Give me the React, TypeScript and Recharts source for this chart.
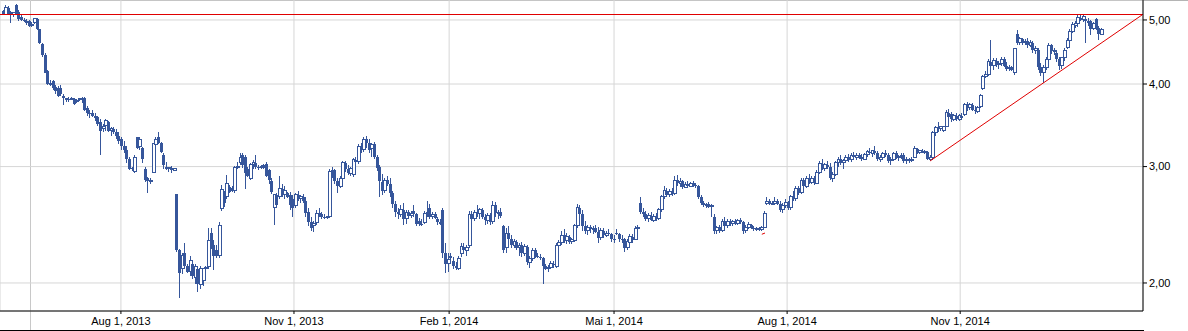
import { ComposedChart, Bar, XAxis, YAxis, CartesianGrid, ReferenceLine } from 'recharts';

type Ohlc = [number, number, number, number];

// daily candles: open, high, low, close (EUR)
const candlesJunJul2013: Ohlc[] = [
  [5.16, 5.18, 5.08, 5.1], [5.1, 5.26, 5.08, 5.22], [5.22, 5.24, 5.11, 5.14], [5.14, 5.16, 4.95, 5.1],
  [5.1, 5.14, 5.05, 5.13], [5.26, 5.28, 5.1, 5.14], [5.14, 5.18, 4.98, 5.02], [5.05, 5.1, 4.98, 5.0],
  [5.0, 5.04, 4.96, 4.98], [4.98, 5.01, 4.92, 4.95], [4.98, 5.0, 4.88, 4.9], [4.9, 4.96, 4.88, 4.93],
  [4.95, 5.04, 4.93, 5.02], [5.02, 5.04, 4.82, 4.84], [4.84, 4.85, 4.6, 4.62], [4.6, 4.62, 4.4, 4.43],
  [4.43, 4.45, 4.15, 4.16], [4.18, 4.2, 3.98, 4.0], [4.02, 4.05, 3.97, 3.99], [4.04, 4.06, 3.92, 3.94],
  [3.96, 3.99, 3.86, 3.9], [3.95, 3.97, 3.82, 3.84], [3.95, 3.98, 3.83, 3.86], [3.84, 3.86, 3.72, 3.81],
  [3.79, 3.81, 3.76, 3.8], [3.8, 3.82, 3.76, 3.78], [3.8, 3.82, 3.78, 3.8], [3.8, 3.81, 3.72, 3.73],
  [3.76, 3.8, 3.74, 3.78], [3.79, 3.81, 3.77, 3.8], [3.8, 3.82, 3.75, 3.78], [3.81, 3.82, 3.64, 3.66],
  [3.68, 3.7, 3.58, 3.62], [3.62, 3.66, 3.55, 3.6], [3.62, 3.65, 3.56, 3.58], [3.58, 3.62, 3.52, 3.55],
  [3.56, 3.58, 3.45, 3.48], [3.5, 3.54, 3.12, 3.4], [3.42, 3.48, 3.38, 3.45], [3.46, 3.54, 3.4, 3.52],
  [3.5, 3.52, 3.38, 3.4], [3.4, 3.44, 3.34, 3.42], [3.42, 3.44, 3.36, 3.38], [3.38, 3.42, 3.3, 3.34],
  [3.34, 3.38, 3.24, 3.28],
];

const candlesAugOct2013: Ohlc[] = [
  [3.3, 3.33, 3.18, 3.22], [3.22, 3.28, 3.14, 3.18], [3.18, 3.22, 3.04, 3.08], [3.08, 3.1, 2.96, 2.98],
  [2.99, 3.0, 2.95, 2.97], [2.95, 3.12, 2.93, 3.1], [3.32, 3.33, 3.19, 3.2], [3.22, 3.33, 3.18, 3.3],
  [3.2, 3.21, 3.04, 3.08], [2.98, 3.0, 2.84, 2.86], [2.88, 2.89, 2.74, 2.85], [2.85, 2.88, 2.82, 2.86],
  [2.94, 3.26, 2.93, 3.25], [3.24, 3.32, 3.22, 3.3], [3.33, 3.38, 3.24, 3.26], [3.26, 3.27, 3.14, 3.16],
  [3.12, 3.14, 2.97, 3.02], [3.0, 3.05, 2.96, 2.98], [2.98, 3.0, 2.94, 2.99], [2.99, 3.01, 2.93, 2.96],
  [2.96, 2.99, 2.95, 2.98], [2.73, 2.73, 2.23, 2.24], [2.24, 2.25, 1.9, 2.07], [2.1, 2.22, 2.06, 2.2],
  [2.22, 2.3, 2.11, 2.12], [2.12, 2.14, 2.07, 2.08], [2.08, 2.2, 2.05, 2.16], [2.14, 2.16, 2.03, 2.05],
  [2.04, 2.14, 1.99, 2.12], [2.1, 2.12, 1.94, 1.99], [1.99, 2.12, 1.96, 2.1], [2.02, 2.11, 1.98, 2.1],
  [2.1, 2.12, 2.08, 2.11], [2.12, 2.42, 2.1, 2.32], [2.38, 2.42, 2.25, 2.28], [2.28, 2.32, 2.09, 2.2],
  [2.24, 2.28, 2.18, 2.2], [2.2, 2.47, 2.18, 2.44], [2.59, 2.81, 2.57, 2.77], [2.74, 2.76, 2.61, 2.64],
  [2.7, 2.91, 2.68, 2.83], [2.79, 2.81, 2.74, 2.75], [2.78, 2.8, 2.75, 2.76], [2.76, 3.01, 2.74, 2.99],
  [2.99, 3.05, 2.97, 3.0], [3.04, 3.14, 3.02, 3.1], [3.12, 3.15, 2.99, 3.02], [3.1, 3.12, 2.77, 2.93],
  [2.98, 3.0, 2.89, 2.9], [2.88, 3.04, 2.86, 3.02], [3.02, 3.07, 2.98, 3.04], [3.04, 3.12, 2.97, 3.0],
  [3.0, 3.02, 2.96, 2.99], [2.99, 3.02, 2.98, 3.0], [3.02, 3.03, 2.98, 2.99], [3.03, 3.05, 2.89, 2.9],
  [2.96, 2.98, 2.82, 2.86], [2.85, 2.88, 2.73, 2.75], [2.6, 2.72, 2.45, 2.72], [2.72, 2.74, 2.6, 2.62],
  [2.7, 2.9, 2.68, 2.78], [2.77, 2.82, 2.7, 2.72], [2.72, 2.8, 2.68, 2.76], [2.74, 2.75, 2.69, 2.7],
  [2.72, 2.75, 2.58, 2.62], [2.68, 2.72, 2.52, 2.6],
];

const candlesNovJan2014: Ohlc[] = [
  [2.62, 2.74, 2.6, 2.72], [2.72, 2.76, 2.66, 2.68], [2.68, 2.72, 2.64, 2.7], [2.7, 2.73, 2.64, 2.66],
  [2.66, 2.7, 2.52, 2.55], [2.56, 2.6, 2.44, 2.47], [2.47, 2.52, 2.4, 2.42], [2.44, 2.48, 2.39, 2.46],
  [2.47, 2.58, 2.45, 2.55], [2.55, 2.6, 2.52, 2.54], [2.54, 2.56, 2.5, 2.52], [2.52, 2.54, 2.5, 2.51],
  [2.51, 2.53, 2.5, 2.52], [2.52, 2.97, 2.51, 2.95], [2.95, 3.0, 2.88, 2.96], [2.96, 2.98, 2.82, 2.85],
  [2.85, 2.88, 2.74, 2.8], [2.8, 2.9, 2.78, 2.88], [2.88, 3.06, 2.86, 3.04], [3.04, 3.06, 2.94, 2.97],
  [2.97, 3.02, 2.91, 2.93], [2.93, 3.0, 2.9, 2.98], [2.92, 3.09, 2.89, 3.07], [3.07, 3.1, 3.02, 3.05],
  [3.05, 3.24, 3.03, 3.22], [3.22, 3.26, 3.14, 3.18], [3.18, 3.33, 3.16, 3.3], [3.3, 3.34, 3.2, 3.26],
  [3.26, 3.3, 3.14, 3.18], [3.2, 3.26, 3.1, 3.24], [3.24, 3.27, 3.08, 3.1], [3.1, 3.12, 2.95, 2.99],
  [3.0, 3.02, 2.7, 2.85], [2.84, 2.92, 2.72, 2.76], [2.76, 2.88, 2.74, 2.86], [2.86, 2.9, 2.8, 2.82],
  [2.82, 2.88, 2.7, 2.74], [2.74, 2.76, 2.6, 2.63], [2.63, 2.66, 2.52, 2.56], [2.56, 2.6, 2.5, 2.54],
  [2.54, 2.62, 2.52, 2.58], [2.58, 2.64, 2.45, 2.5], [2.5, 2.58, 2.46, 2.56], [2.56, 2.58, 2.5, 2.53],
  [2.53, 2.57, 2.51, 2.55], [2.57, 2.62, 2.52, 2.54], [2.54, 2.55, 2.44, 2.46], [2.48, 2.51, 2.44, 2.46],
  [2.46, 2.5, 2.44, 2.45], [2.47, 2.57, 2.46, 2.55], [2.55, 2.66, 2.52, 2.56], [2.6, 2.63, 2.5, 2.52],
  [2.52, 2.56, 2.5, 2.54], [2.54, 2.56, 2.5, 2.51], [2.5, 2.52, 2.45, 2.47], [2.47, 2.5, 2.45, 2.46],
  [2.58, 2.6, 2.18, 2.22], [2.22, 2.3, 2.07, 2.14], [2.14, 2.22, 2.08, 2.17],
];

const candlesFebApr2014: Ohlc[] = [
  [2.2, 2.22, 2.15, 2.18], [2.16, 2.19, 2.1, 2.12], [2.12, 2.15, 2.09, 2.11], [2.1, 2.2, 2.09, 2.18],
  [2.22, 2.3, 2.19, 2.27], [2.27, 2.3, 2.22, 2.24], [2.24, 2.28, 2.2, 2.26], [2.28, 2.57, 2.26, 2.54],
  [2.54, 2.57, 2.47, 2.5], [2.5, 2.58, 2.48, 2.56], [2.56, 2.62, 2.52, 2.55], [2.55, 2.6, 2.5, 2.58],
  [2.58, 2.6, 2.5, 2.52], [2.52, 2.54, 2.45, 2.49], [2.49, 2.55, 2.46, 2.53], [2.53, 2.55, 2.45, 2.47],
  [2.48, 2.66, 2.46, 2.62], [2.62, 2.65, 2.52, 2.55], [2.55, 2.58, 2.5, 2.56], [2.56, 2.6, 2.51, 2.53],
  [2.44, 2.45, 2.22, 2.24], [2.26, 2.42, 2.22, 2.38], [2.38, 2.44, 2.3, 2.33], [2.33, 2.36, 2.26, 2.28],
  [2.28, 2.33, 2.26, 2.31], [2.31, 2.32, 2.24, 2.26], [2.26, 2.3, 2.2, 2.28], [2.28, 2.31, 2.19, 2.22],
  [2.22, 2.29, 2.2, 2.27], [2.27, 2.28, 2.13, 2.15], [2.15, 2.2, 2.11, 2.18], [2.18, 2.26, 2.16, 2.24],
  [2.24, 2.26, 2.18, 2.2], [2.2, 2.22, 2.18, 2.19], [2.19, 2.21, 2.17, 2.18], [2.18, 2.19, 1.99, 2.12],
  [2.12, 2.14, 2.09, 2.1], [2.1, 2.13, 2.08, 2.11], [2.11, 2.16, 2.1, 2.14], [2.14, 2.16, 2.11, 2.13],
  [2.12, 2.3, 2.11, 2.28], [2.28, 2.32, 2.25, 2.3], [2.3, 2.4, 2.28, 2.36], [2.36, 2.41, 2.3, 2.32],
  [2.32, 2.38, 2.29, 2.35], [2.35, 2.36, 2.29, 2.31], [2.31, 2.34, 2.29, 2.33], [2.32, 2.46, 2.31, 2.44],
  [2.44, 2.63, 2.42, 2.6], [2.6, 2.62, 2.52, 2.54], [2.54, 2.58, 2.4, 2.44], [2.44, 2.48, 2.37, 2.4],
  [2.4, 2.45, 2.36, 2.43], [2.43, 2.45, 2.38, 2.41], [2.41, 2.44, 2.37, 2.42], [2.42, 2.45, 2.38, 2.39],
  [2.39, 2.43, 2.3, 2.34], [2.34, 2.42, 2.32, 2.4], [2.4, 2.42, 2.34, 2.36], [2.36, 2.4, 2.35, 2.38],
  [2.38, 2.41, 2.36, 2.37], [2.37, 2.38, 2.31, 2.33], [2.33, 2.36, 2.3, 2.32],
];

const candlesMayJul2014: Ohlc[] = [
  [2.38, 2.41, 2.36, 2.37], [2.37, 2.38, 2.31, 2.33], [2.33, 2.36, 2.3, 2.32], [2.33, 2.34, 2.23, 2.26],
  [2.26, 2.33, 2.24, 2.31], [2.3, 2.37, 2.28, 2.35], [2.35, 2.37, 2.3, 2.32], [2.33, 2.44, 2.32, 2.42],
  [2.42, 2.45, 2.38, 2.43], [2.64, 2.7, 2.54, 2.56], [2.56, 2.6, 2.52, 2.54], [2.54, 2.57, 2.48, 2.5],
  [2.5, 2.55, 2.47, 2.53], [2.53, 2.56, 2.48, 2.49], [2.49, 2.54, 2.47, 2.52], [2.52, 2.55, 2.48, 2.5],
  [2.5, 2.6, 2.49, 2.58], [2.58, 2.72, 2.56, 2.7], [2.7, 2.8, 2.68, 2.76], [2.76, 2.78, 2.7, 2.72],
  [2.72, 2.77, 2.7, 2.75], [2.75, 2.78, 2.71, 2.73], [2.73, 2.9, 2.72, 2.86], [2.86, 2.91, 2.8, 2.83],
  [2.83, 2.88, 2.79, 2.85], [2.85, 2.86, 2.77, 2.79], [2.79, 2.84, 2.78, 2.82], [2.82, 2.85, 2.78, 2.8],
  [2.8, 2.84, 2.79, 2.83], [2.83, 2.85, 2.79, 2.81], [2.81, 2.83, 2.78, 2.8], [2.8, 2.81, 2.68, 2.7],
  [2.7, 2.72, 2.62, 2.64], [2.64, 2.66, 2.61, 2.62], [2.62, 2.64, 2.6, 2.63], [2.63, 2.65, 2.6, 2.61],
  [2.61, 2.63, 2.52, 2.62], [2.52, 2.54, 2.37, 2.4], [2.4, 2.44, 2.37, 2.43], [2.43, 2.45, 2.38, 2.4],
  [2.4, 2.5, 2.39, 2.48], [2.48, 2.52, 2.42, 2.44], [2.44, 2.5, 2.42, 2.48], [2.48, 2.5, 2.44, 2.46],
  [2.46, 2.49, 2.44, 2.48], [2.48, 2.5, 2.45, 2.46], [2.46, 2.5, 2.45, 2.49], [2.49, 2.51, 2.46, 2.47],
  [2.47, 2.48, 2.37, 2.4], [2.4, 2.45, 2.38, 2.43], [2.43, 2.47, 2.41, 2.45], [2.45, 2.46, 2.41, 2.42],
  [2.42, 2.44, 2.4, 2.41], [2.41, 2.43, 2.4, 2.42], [2.42, 2.43, 2.4, 2.41], [2.41, 2.44, 2.4, 2.43],
  [2.43, 2.57, 2.42, 2.55], [2.64, 2.7, 2.62, 2.66], [2.66, 2.68, 2.62, 2.63], [2.63, 2.66, 2.62, 2.64],
  [2.64, 2.7, 2.62, 2.66], [2.66, 2.68, 2.62, 2.63], [2.63, 2.66, 2.56, 2.58], [2.58, 2.64, 2.55, 2.62],
  [2.62, 2.68, 2.6, 2.65],
];

const candlesAugOct2014: Ohlc[] = [
  [2.65, 2.66, 2.58, 2.6], [2.6, 2.72, 2.58, 2.7], [2.7, 2.76, 2.66, 2.68], [2.68, 2.8, 2.66, 2.78],
  [2.78, 2.8, 2.72, 2.74], [2.74, 2.88, 2.73, 2.86], [2.86, 2.88, 2.78, 2.8], [2.8, 2.9, 2.78, 2.88],
  [2.88, 2.92, 2.82, 2.84], [2.84, 2.9, 2.82, 2.88], [2.88, 2.9, 2.81, 2.83], [2.83, 2.96, 2.82, 2.94],
  [2.94, 3.06, 2.92, 3.03], [3.03, 3.08, 2.96, 2.98], [2.98, 3.04, 2.95, 3.02], [3.02, 3.06, 2.97, 3.0],
  [3.0, 3.04, 2.86, 2.88], [2.88, 2.94, 2.84, 2.92], [2.92, 3.06, 2.9, 3.04], [3.04, 3.1, 3.0, 3.08],
  [3.08, 3.12, 3.02, 3.04], [3.04, 3.08, 2.98, 3.06], [3.06, 3.12, 3.04, 3.1], [3.1, 3.13, 3.05, 3.07],
  [3.07, 3.14, 3.05, 3.12], [3.12, 3.16, 3.08, 3.1], [3.1, 3.14, 3.07, 3.12], [3.12, 3.15, 3.08, 3.1],
  [3.1, 3.13, 3.06, 3.08], [3.08, 3.14, 3.07, 3.13], [3.13, 3.18, 3.1, 3.16], [3.16, 3.2, 3.12, 3.14],
  [3.14, 3.18, 3.1, 3.17], [3.17, 3.22, 3.12, 3.15], [3.15, 3.17, 3.06, 3.08], [3.08, 3.12, 3.05, 3.1],
  [3.1, 3.16, 3.08, 3.14], [3.14, 3.18, 3.1, 3.12], [3.12, 3.14, 3.04, 3.06], [3.06, 3.1, 3.02, 3.08],
  [3.08, 3.16, 3.06, 3.14], [3.14, 3.17, 3.08, 3.1], [3.1, 3.12, 3.06, 3.11], [3.11, 3.14, 3.08, 3.12],
  [3.12, 3.14, 3.04, 3.06], [3.06, 3.1, 3.03, 3.08], [3.08, 3.09, 3.04, 3.06], [3.06, 3.1, 3.05, 3.08],
  [3.1, 3.22, 3.09, 3.19], [3.19, 3.2, 3.13, 3.15], [3.15, 3.18, 3.13, 3.17], [3.17, 3.19, 3.14, 3.15],
  [3.15, 3.18, 3.13, 3.16], [3.16, 3.17, 3.07, 3.08], [3.08, 3.12, 3.06, 3.1], [3.1, 3.4, 3.09, 3.38],
  [3.38, 3.46, 3.34, 3.44], [3.44, 3.5, 3.38, 3.42], [3.42, 3.46, 3.4, 3.45], [3.4, 3.46, 3.39, 3.45],
  [3.45, 3.66, 3.44, 3.62], [3.62, 3.67, 3.52, 3.56], [3.6, 3.63, 3.51, 3.54], [3.54, 3.6, 3.52, 3.58],
  [3.58, 3.62, 3.52, 3.54], [3.54, 3.6, 3.52, 3.58],
];

const candlesNovJan2015: Ohlc[] = [
  [3.58, 3.62, 3.53, 3.55], [3.6, 3.75, 3.58, 3.72], [3.72, 3.76, 3.64, 3.68], [3.68, 3.74, 3.65, 3.72],
  [3.72, 3.75, 3.64, 3.66], [3.66, 3.7, 3.6, 3.64], [3.64, 3.7, 3.62, 3.68], [3.7, 3.86, 3.68, 3.84],
  [3.94, 4.13, 3.92, 4.1], [4.1, 4.18, 4.08, 4.14], [4.14, 4.36, 4.12, 4.32], [4.32, 4.66, 4.2, 4.26],
  [4.26, 4.38, 4.2, 4.34], [4.34, 4.38, 4.24, 4.28], [4.28, 4.34, 4.22, 4.3], [4.3, 4.4, 4.26, 4.36],
  [4.36, 4.4, 4.24, 4.26], [4.26, 4.32, 4.18, 4.22], [4.22, 4.28, 4.18, 4.24], [4.24, 4.26, 4.18, 4.2],
  [4.16, 4.54, 4.13, 4.52], [4.76, 4.82, 4.58, 4.62], [4.62, 4.72, 4.58, 4.68], [4.68, 4.7, 4.58, 4.62],
  [4.62, 4.68, 4.58, 4.64], [4.64, 4.7, 4.54, 4.58], [4.58, 4.66, 4.55, 4.62], [4.62, 4.64, 4.46, 4.5],
  [4.5, 4.56, 4.44, 4.52], [4.5, 4.54, 4.2, 4.24], [4.24, 4.3, 4.12, 4.16], [4.16, 4.28, 4.02, 4.24],
  [4.24, 4.4, 4.2, 4.36], [4.36, 4.62, 4.34, 4.58], [4.58, 4.6, 4.44, 4.48], [4.48, 4.54, 4.42, 4.5],
  [4.46, 4.48, 4.32, 4.36], [4.36, 4.4, 4.2, 4.26], [4.26, 4.4, 4.22, 4.38], [4.38, 4.54, 4.34, 4.5],
  [4.54, 4.7, 4.52, 4.66], [4.66, 4.84, 4.64, 4.8], [4.8, 4.96, 4.78, 4.92], [4.9, 4.98, 4.86, 4.94],
  [4.94, 5.08, 4.88, 5.04], [5.04, 5.1, 4.98, 5.0], [5.0, 5.08, 4.96, 5.06], [5.02, 5.06, 4.62, 4.98],
  [4.98, 5.04, 4.9, 4.94], [4.98, 5.0, 4.75, 4.84], [4.86, 4.96, 4.82, 4.94], [5.02, 5.04, 4.82, 4.86],
  [4.86, 4.9, 4.66, 4.76], [4.76, 4.86, 4.74, 4.84],
];

const dateTicks = [44.9, 110.6, 169.5, 232.1, 297.8, 363.5];
const dateLabels = ['Aug 1, 2013', 'Nov 1, 2013', 'Feb 1, 2014', 'Mai 1, 2014', 'Aug 1, 2014', 'Nov 1, 2014'];
const priceTicks = [2, 3, 4, 5];

// drawn lines: resistance at the top, rising support line, a stray stub
const resistance = 5.09;
const supportLine = [
  { x: 352.1, y: 3.06 },
  { x: 432.6, y: 5.09 },
];
const stubLine = [
  { x: 288.2, y: 2.37 },
  { x: 289.4, y: 2.38 },
];

const BLUE = '#36569b';
const RED = '#e00000';
const FONT = '"Liberation Sans", Arial, sans-serif';

const data = [
  ...candlesJunJul2013,
  ...candlesAugOct2013,
  ...candlesNovJan2014,
  ...candlesFebApr2014,
  ...candlesMayJul2014,
  ...candlesAugOct2014,
  ...candlesNovJan2015,
].map(([o, h, l, c], i) => ({ i, o, h, l, c }));

function Candle(props: any) {
  const { x, y, width, height, payload } = props;
  if (!payload || x == null) return null;
  const { o, h, l, c } = payload;
  const top = Math.min(y, y + height);
  const span = Math.abs(height);
  const lh = Math.log(h);
  const ll = Math.log(l);
  // place open/close inside the high-low bar (log axis)
  const py = (v: number) => (lh === ll ? top : top + ((lh - Math.log(v)) / (lh - ll)) * span);
  const cx = Math.round(x + width / 2) + 0.5;
  const yo = py(o);
  const yc = py(c);
  const bodyTop = Math.min(yo, yc);
  const bodyH = Math.max(Math.abs(yc - yo), 1);
  const up = c >= o;

  return (
    <g shapeRendering="crispEdges">
      <line x1={cx} x2={cx} y1={top} y2={top + span} stroke={BLUE} strokeWidth={1} />
      {up ? (
        <rect x={cx - 1.5} y={bodyTop} width={3} height={bodyH} fill="#fff" stroke={BLUE} strokeWidth={1} />
      ) : (
        <rect x={cx - 1.5} y={bodyTop} width={3} height={bodyH} fill={BLUE} />
      )}
    </g>
  );
}

export default function App() {
  return (
    <div style={{ position: 'absolute', left: 0, top: 0, width: 1188, height: 331, background: '#fff' }}>
      <div style={{ position: 'absolute', left: 0, top: 0, width: 1188, height: 1, background: '#b4b4b4' }} />
      <div style={{ position: 'absolute', left: 30, top: 0, width: 1, height: 331, background: '#c8c8c8' }} />
      <div style={{ position: 'absolute', left: 0, top: 330, width: 1144, height: 1, background: '#000' }} />
      <div style={{ position: 'absolute', left: 0, top: 0 }}>
        <ComposedChart width={1188} height={331} data={data} margin={{ top: 0, right: 0, left: 0, bottom: 0 }}>
          <CartesianGrid stroke="#d6d6d6" strokeWidth={1} />
          <XAxis
            dataKey="i"
            type="number"
            domain={[-1, 432.9]}
            allowDataOverflow
            ticks={dateTicks}
            interval={0}
            tickFormatter={(v) => dateLabels[dateTicks.indexOf(v)] ?? ''}
            height={20}
            axisLine={{ stroke: '#000' }}
            tickLine={{ stroke: '#000' }}
            tickSize={3}
            tickMargin={3}
            tick={{ fontSize: 11, fill: '#000', fontFamily: FONT }}
          />
          <YAxis
            orientation="right"
            scale="log"
            type="number"
            domain={[1.814, 5.36]}
            allowDataOverflow
            ticks={priceTicks}
            interval={0}
            tickFormatter={(v) => v.toFixed(2).replace('.', ',')}
            width={45}
            axisLine={{ stroke: '#000' }}
            tickLine={{ stroke: '#000' }}
            tickSize={4}
            tickMargin={2}
            tick={{ fontSize: 11, fill: '#000', fontFamily: FONT }}
          />
          <ReferenceLine y={resistance} stroke={RED} strokeWidth={1} shapeRendering="crispEdges" />
          <ReferenceLine segment={supportLine} stroke={RED} strokeWidth={1} />
          <ReferenceLine segment={stubLine} stroke={RED} strokeWidth={1} />
          <Bar
            dataKey={(d: any) => [d.l, d.h]}
            barSize={3}
            shape={<Candle />}
            isAnimationActive={false}
          />
        </ComposedChart>
      </div>
    </div>
  );
}
